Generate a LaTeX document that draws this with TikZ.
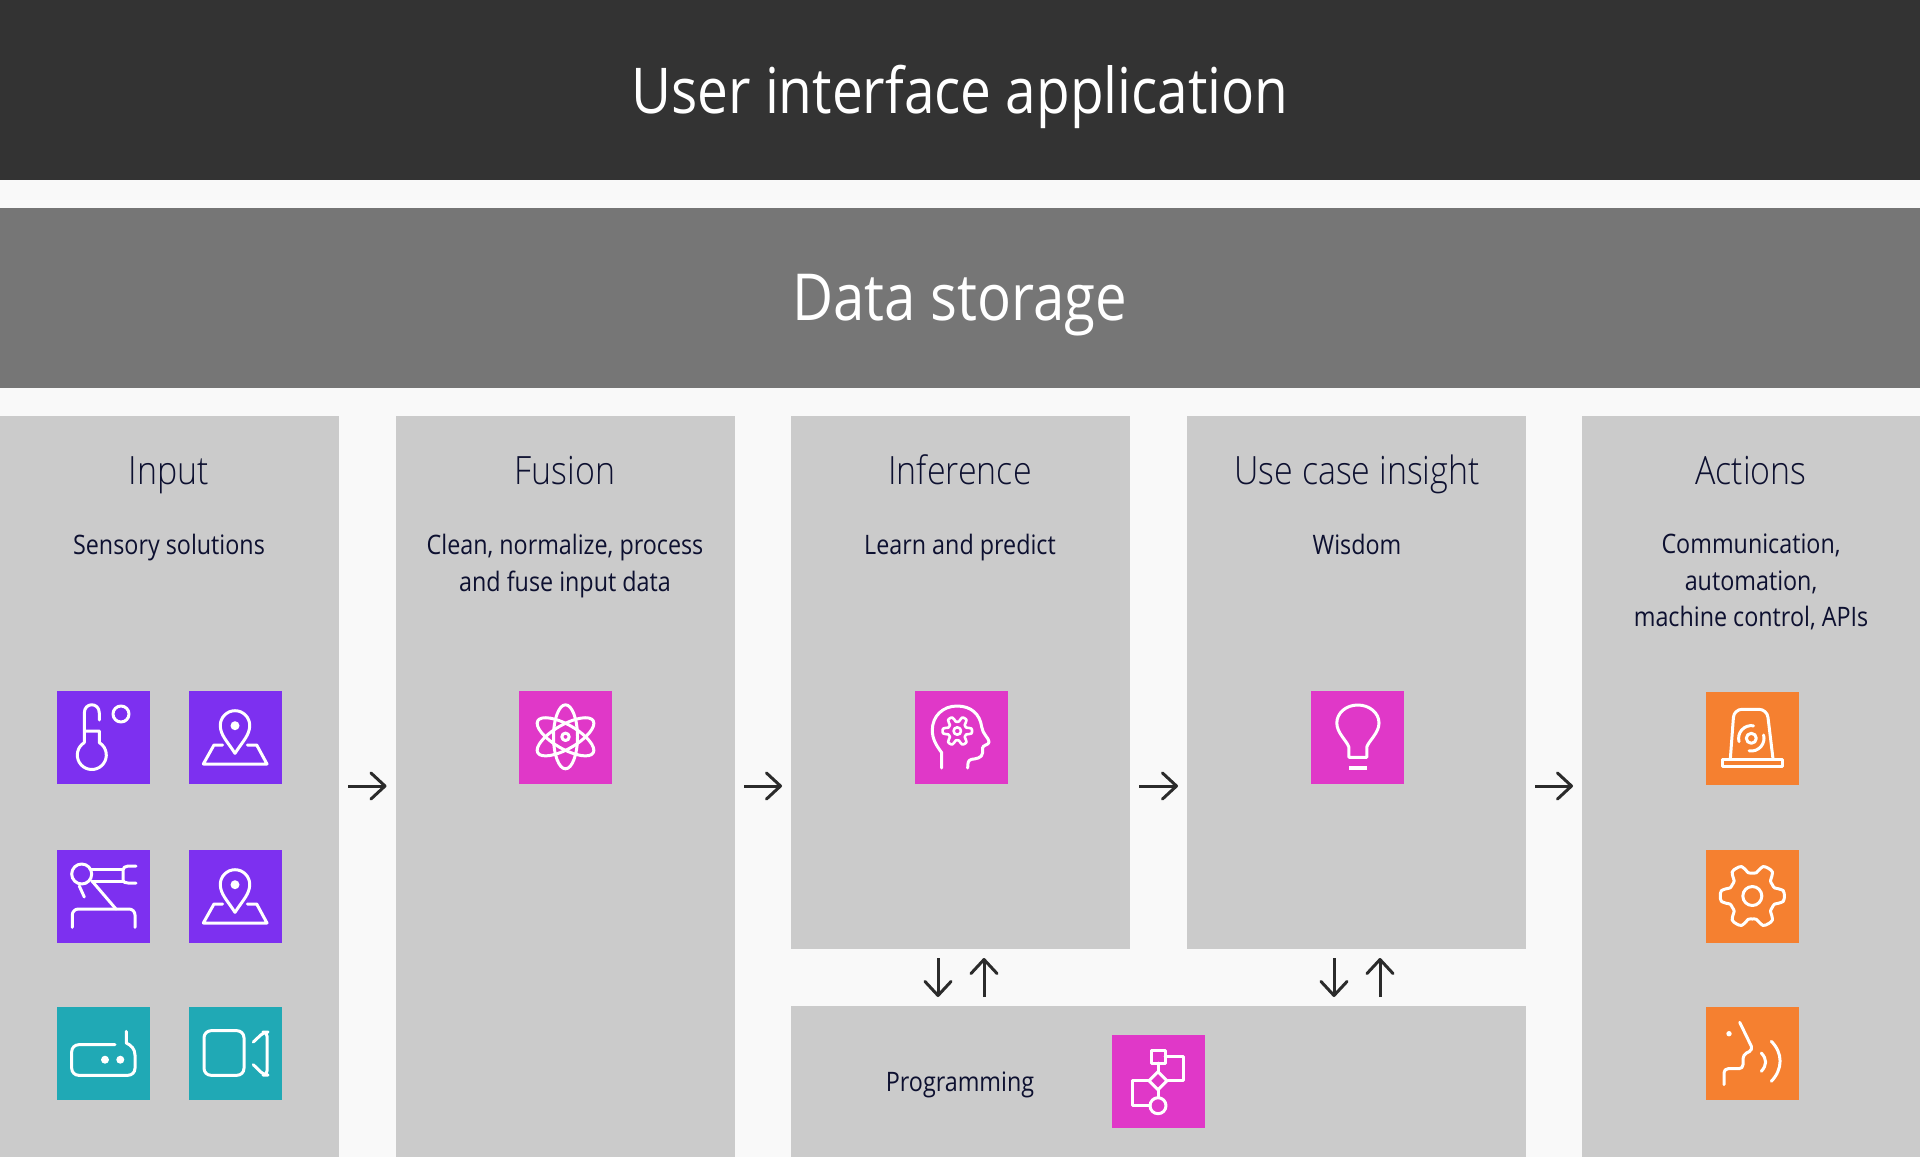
\documentclass[tikz,border=0pt]{standalone}
\usepackage{fontspec}
\setmainfont[FakeStretch=0.87]{Open Sans}
\newfontfamily\thinf[FakeStretch=0.87]{Open Sans Light}
\usetikzlibrary{arrows.meta}
\definecolor{bg}{HTML}{F9F9F9}
\definecolor{darkband}{HTML}{333333}
\definecolor{midband}{HTML}{767676}
\definecolor{colgray}{HTML}{CBCBCB}
\definecolor{ink}{HTML}{0D1030}
\definecolor{arrowc}{HTML}{2B2B2B}
\definecolor{purp}{HTML}{7D30F0}
\definecolor{magen}{HTML}{E038C8}
\definecolor{tealc}{HTML}{20A9B5}
\definecolor{orang}{HTML}{F58030}
\tikzset{
 pxbox/.style n args={2}{rectangle,draw=none,inner sep=0pt,outer sep=0pt,anchor=north west,minimum width=#1*0.5pt,minimum height=#2*0.5pt},
 icon/.style={pxbox={93}{93},fill=#1},
 ic/.style={draw=white,line width=1.5pt,line cap=round,line join=round},
 dotw/.style={fill=white,draw=none},
 title/.style={text=white,anchor=base,font=\fontsize{31.6}{36}\selectfont},
 head/.style={text=ink,anchor=base,font=\thinf\fontsize{19.5}{23}\selectfont},
 sub/.style={text=ink,align=center,anchor=north,font=\fontsize{13.4}{18.3}\selectfont},
 arr/.style={draw=arrowc,line width=1.5pt,shorten <=4.5pt,shorten >=4.5pt,-{Straight Barb[length=7pt,width=13pt,round]}},
 thermo/.pic={
  \draw[ic] (42.3,29)--(42.3,22) .. controls (42.3,11) and (27.3,11) .. (27.3,22) -- (27.3,51.6) arc (238.8:-58.8:14.5) -- (42.3,40) -- (27.3,40);
  \draw[ic] (64,23) circle (8);
 },
 mappin/.pic={
  \draw[ic] (46,62.3) .. controls (38,50) and (31.3,44) .. (31.3,34.4) arc (180:360:14.7) .. controls (60.7,44) and (54,50) .. (46,62.3) -- cycle;
  \fill[dotw] (46,34.7) circle (4.5);
  \draw[ic] (33.7,54) -- (25,54) -- (14.3,73) -- (78,73) -- (67.7,54) -- (58.3,54);
 },
 robot/.pic={
  \draw[ic] (24.7,24) circle (10);
  \draw[ic] (33,19) -- (66,19);
  \draw[ic] (35,31) -- (66,31);
  \draw[ic] (79,16) -- (71,16) .. controls (68,16) and (66,18) .. (66,20) -- (66,30) .. controls (66,32) and (68,33) .. (71,33) -- (79,33);
  \draw[ic] (35,31) -- (59,59);
  \draw[ic] (22.3,36) -- (27.3,47);
  \draw[ic,rounded corners=3pt] (15.3,77.3) -- (15.3,59) -- (78,59) -- (78,77.3);
 },
 router/.pic={
  \draw[ic,rounded corners=3.5pt] (58,37.7) -- (14.7,37.7) -- (14.7,68.3) -- (78,68.3) -- (78,48);
  \draw[ic] (69.3,24.3) -- (69.3,36) .. controls (74,38) and (78,42) .. (78,48);
  \fill[dotw] (48,52.7) circle (4);
  \fill[dotw] (63.3,52.7) circle (4);
 },
 camera/.pic={
  \draw[ic,rounded corners=3.5pt] (15,23.7) rectangle (55,68.3);
  \draw[ic,rounded corners=2pt] (64.3,35) -- (75,25) -- (78,25) -- (78,68) -- (75,68) -- (64.3,57.7);
 },
 atom/.pic={
  \foreach \a in {90,30,-30}{\draw[ic,rotate around={\a:(46.5,45.8)}] (46.5,45.8) ellipse (32 and 12);}
  \draw[ic] (46.5,45.8) circle (3.7);
 },
 headgear/.pic={
  \draw[ic] (26.7,77) -- (26.7,61.7) .. controls (21,54) and (17.3,48) .. (17.3,39) .. controls (17.3,25) and (28,15) .. (42,15) .. controls (56,15) and (65,23) .. (66.7,36) .. controls (67.5,43) and (74,47) .. (74,51) .. controls (74,54) and (67.5,54) .. (67.5,57) -- (67.5,62) .. controls (67.5,67) and (60,68) .. (56.7,68.3) .. controls (53,69) and (52.7,72) .. (52.7,77);
  \draw[ic,line width=1.3pt] plot[smooth,domain=0:360,samples=73] ({42.3+(12+2.7*max(min(1.7*cos(6*\x),1),-1))*cos(\x)},{40+(12+2.7*max(min(1.7*cos(6*\x),1),-1))*sin(\x)}) -- cycle;
  \draw[ic,line width=1.3pt] (42.3,40) circle (3.7);
 },
 bulb/.pic={
  \draw[ic] (37.8,66.3) -- (37.8,56) .. controls (36,50) and (25.8,42) .. (25.8,32) .. controls (25.8,22) and (35,14) .. (46.8,14) .. controls (58.6,14) and (68,22) .. (68,32) .. controls (68,42) and (57.6,50) .. (55.8,56) -- (55.8,66.3) -- cycle;
  \draw[ic,line width=1.8pt,line cap=butt] (38,76.7) -- (56,76.7);
 },
 alarm/.pic={
  \draw[ic,rounded corners=4pt] (24.3,67) -- (28,17.3) -- (61,17.3) -- (67,67);
  \draw[ic] (16,67.3) rectangle (76.3,74.7);
  \draw[ic] (45.3,46.3) circle (5);
  \draw[ic] (45.3,46.3) ++(280:12.7) arc (280:165:12.7);
  \draw[ic] (45.3,46.3) ++(100:12.7) arc (100:-15:12.7);
 },
 cog/.pic={
  \draw[ic] plot[smooth,domain=0:360,samples=73] ({46.3+(27.5+4.5*max(min(1.7*cos(6*\x),1),-1))*cos(\x)},{46+(27.5+4.5*max(min(1.7*cos(6*\x),1),-1))*sin(\x)}) -- cycle;
  \draw[ic] (46.3,46) circle (9.5);
 },
 speak/.pic={
  \fill[dotw] (23,26.7) circle (2.7);
  \draw[ic,rounded corners=2pt] (33.7,15.3) -- (47,42.7) -- (37,47.7) -- (37,61.7) -- (18,61.7) -- (18,77.7);
  \draw[ic] (55.3,46) .. controls (61,52) and (61,58) .. (55.3,64.3);
  \draw[ic] (65.3,34.3) .. controls (77,46) and (77,62) .. (65.3,74.3);
 },
 flowchart/.pic={
  \draw[ic] (39,15) rectangle (53,28);
  \draw[ic] (53,21) -- (71.7,21) -- (71.7,45.7) -- (55,45.7);
  \draw[ic] (46,36.7) -- (55,45.7) -- (46,54.7) -- (37,45.7) -- cycle;
  \draw[ic] (46,28) -- (46,36.7);
  \draw[ic] (37,45.7) -- (20.4,45.7) -- (20.4,70) -- (38,70);
  \draw[ic] (46,54.7) -- (46,62.7);
  \draw[ic] (46,70.7) circle (8);
 },
}
\begin{document}
\begin{tikzpicture}[x=0.5pt,y=-0.5pt]
\useasboundingbox (0,0) rectangle (1920,1157);
\fill[bg] (0,0) rectangle (1920,1157);
% bands
\node[pxbox={1920}{180},fill=darkband] (ui) at (0,0) {};
\node[pxbox={1920}{180},fill=midband] (store) at (0,208) {};
\node[title] (uit) at (960,113) {User interface application};
\node[title,font=\fontsize{32.4}{36}\selectfont] (storet) at (960,320) {Data storage};
% columns
\node[pxbox={339}{741},fill=colgray] (input) at (0,416) {};
\node[pxbox={339.5}{741},fill=colgray] (fusion) at (395.5,416) {};
\node[pxbox={339}{533},fill=colgray] (infer) at (791,416) {};
\node[pxbox={339}{533},fill=colgray] (usecase) at (1187,416) {};
\node[pxbox={338}{741},fill=colgray] (actions) at (1582,416) {};
\node[pxbox={735}{151},fill=colgray] (prog) at (791,1006) {};
% headings
\node[head] (h1) at (169,484) {Input};
\node[head] (h2) at (565,484) {Fusion};
\node[head] (h3) at (960,484) {Inference};
\node[head] (h4) at (1357,484) {Use case insight};
\node[head] (h5) at (1751,484) {Actions};
\node[sub] (s1) at (169,527) {Sensory solutions};
\node[sub] (s2) at (565,527) {Clean, normalize, process\\and fuse input data};
\node[sub] (s3) at (960,527) {Learn and predict};
\node[sub] (s4) at (1357,527) {Wisdom};
\node[sub] (s5) at (1751,527) {Communication,\\automation,\\machine control, APIs};
\node[text=ink,font=\fontsize{13.4}{18.3}\selectfont] (pt) at (960,1085) {Programming};
% icons
\node[icon=purp] (i1) at (57,691) {}; \pic at (i1.north west) {thermo};
\node[icon=purp] (i2) at (189,691) {}; \pic at (i2.north west) {mappin};
\node[icon=purp] (i3) at (57,850) {}; \pic at (i3.north west) {robot};
\node[icon=purp] (i4) at (189,850) {}; \pic at (i4.north west) {mappin};
\node[icon=tealc] (i5) at (57,1007) {}; \pic at (i5.north west) {router};
\node[icon=tealc] (i6) at (189,1007) {}; \pic at (i6.north west) {camera};
\node[icon=magen] (i7) at (519,691) {}; \pic at (i7.north west) {atom};
\node[icon=magen] (i8) at (915,691) {}; \pic at (i8.north west) {headgear};
\node[icon=magen] (i9) at (1311,691) {}; \pic at (i9.north west) {bulb};
\node[icon=magen] (i10) at (1112,1035) {}; \pic at (i10.north west) {flowchart};
\node[icon=orang] (i11) at (1706,692) {}; \pic at (i11.north west) {alarm};
\node[icon=orang] (i12) at (1706,850) {}; \pic at (i12.north west) {cog};
\node[icon=orang] (i13) at (1706,1007) {}; \pic at (i13.north west) {speak};
% connectors
\coordinate (yl) at (0,786);
\draw[arr] (input.east |- yl) -- (fusion.west |- yl);
\draw[arr] (fusion.east |- yl) -- (infer.west |- yl);
\draw[arr] (infer.east |- yl) -- (usecase.west |- yl);
\draw[arr] (usecase.east |- yl) -- (actions.west |- yl);
\coordinate (d1) at (938,0);
\coordinate (u1) at (984,0);
\coordinate (d2) at (1334,0);
\coordinate (u2) at (1380,0);
\draw[arr] (infer.south -| d1) -- (prog.north -| d1);
\draw[arr] (prog.north -| u1) -- (infer.south -| u1);
\draw[arr] (usecase.south -| d2) -- (prog.north -| d2);
\draw[arr] (prog.north -| u2) -- (usecase.south -| u2);
\end{tikzpicture}
\end{document}
